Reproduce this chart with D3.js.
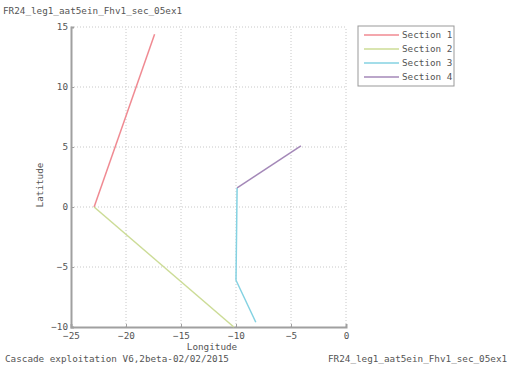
<!DOCTYPE html>
<html>
<head>
<meta charset="utf-8">
<script src="https://cdn.jsdelivr.net/npm/d3@7"></script>
<style>
  body { margin: 0; background: #fff; overflow: hidden; }
  svg { font-family: "DejaVu Sans Mono", monospace; }
</style>
</head>
<body>
<div id="chart"></div>
<script>
// data
const sectionNames = ['Section 1', 'Section 2', 'Section 3', 'Section 4'];
const section1 = [[-22.9, 0], [-17.4, 14.4]];
const section2 = [[-22.9, 0], [-10.2, -10]];
const section3 = [[-8.2, -9.6], [-10, -6.1], [-9.9, 1.6]];
const section4 = [[-9.9, 1.6], [-4.1, 5.1]];
const xTicks = [-25, -20, -15, -10, -5, 0];
const yTicks = [-10, -5, 0, 5, 10, 15];
const colors = ['#f08a92', '#ccdc96', '#84d2e2', '#a488b8'];

const width = 507, height = 370;
const margin = { left: 71, right: 161, top: 27, bottom: 43 };
const fs = '9.3px', txt = '#555';

const svg = d3.select('#chart').append('svg')
  .attr('width', width)
  .attr('height', height);

const x = d3.scaleLinear().domain([-25, 0]).range([margin.left, width - margin.right]);
const y = d3.scaleLinear().domain([-10, 15]).range([height - margin.bottom, margin.top]);

// grid
const grid = svg.append('g');
grid.selectAll('.gx').data(xTicks.slice(1)).enter().append('line')
  .attr('x1', d => x(d)).attr('x2', d => x(d))
  .attr('y1', y(-10)).attr('y2', y(15))
  .attr('stroke', '#c8c8c8').attr('stroke-dasharray', '1,2');
grid.selectAll('.gy').data(yTicks.slice(1)).enter().append('line')
  .attr('y1', d => y(d)).attr('y2', d => y(d))
  .attr('x1', x(-25)).attr('x2', x(0))
  .attr('stroke', '#c8c8c8').attr('stroke-dasharray', '1,2');

// axes
const xAxis = svg.append('g')
  .attr('transform', `translate(0,${y(-10)})`)
  .call(d3.axisBottom(x).tickValues(xTicks).tickSize(-3).tickPadding(5));
const yAxis = svg.append('g')
  .attr('transform', `translate(${x(-25)},0)`)
  .call(d3.axisLeft(y).tickValues(yTicks).tickSize(-3).tickPadding(3));
[xAxis, yAxis].forEach(a => {
  a.select('.domain').attr('stroke', '#a0a0a0').attr('stroke-width', 2);
  a.selectAll('.tick line').attr('stroke', '#a0a0a0');
  a.selectAll('text').attr('fill', txt).style('font-size', fs)
    .style('font-family', '"DejaVu Sans Mono", monospace');
});

// lines
const line = d3.line().x(d => x(d[0])).y(d => y(d[1]));
const sections = [section1, section2, section3, section4];
svg.append('g').selectAll('path').data(sections).enter().append('path')
  .attr('d', line)
  .attr('fill', 'none')
  .attr('stroke', (d, i) => colors[i])
  .attr('stroke-width', 1.5);

// legend
const lg = svg.append('g').attr('transform', 'translate(358,26)');
lg.append('rect').attr('width', 96).attr('height', 60)
  .attr('fill', '#fff').attr('stroke', '#999');
sectionNames.forEach((name, i) => {
  const yy = 9 + i * 14;
  lg.append('line').attr('x1', 6).attr('x2', 41).attr('y1', yy).attr('y2', yy)
    .attr('stroke', colors[i]).attr('stroke-width', 1.5);
  lg.append('text').attr('x', 44).attr('y', yy + 3)
    .attr('fill', txt).style('font-size', fs).text(name);
});

// texts
svg.append('text').attr('x', 3).attr('y', 14)
  .attr('fill', txt).style('font-size', fs)
  .text('FR24_leg1_aat5ein_Fhv1_sec_05ex1');
svg.append('text').attr('x', 212).attr('y', 350).attr('text-anchor', 'middle')
  .attr('fill', txt).style('font-size', fs).text('Longitude');
svg.append('text').attr('transform', 'translate(43,185) rotate(-90)')
  .attr('text-anchor', 'middle')
  .attr('fill', txt).style('font-size', fs).text('Latitude');
svg.append('text').attr('x', 5).attr('y', 362)
  .attr('fill', txt).style('font-size', fs)
  .text('Cascade exploitation V6,2beta-02/02/2015');
svg.append('text').attr('x', 328).attr('y', 362)
  .attr('fill', txt).style('font-size', fs)
  .text('FR24_leg1_aat5ein_Fhv1_sec_05ex1');
</script>
</body>
</html>
